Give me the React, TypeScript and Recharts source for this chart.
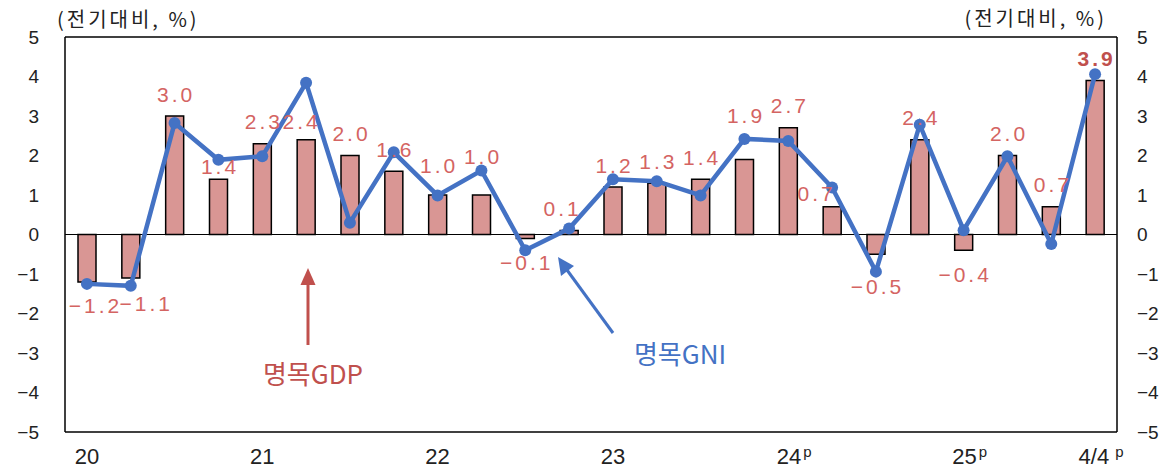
import React from 'react'
import { ComposedChart, Bar, Line, XAxis, YAxis, ReferenceLine, LabelList } from 'recharts'

const quarters = [
  '20Q1', '20Q2', '20Q3', '20Q4', '21Q1', '21Q2', '21Q3', '21Q4',
  '22Q1', '22Q2', '22Q3', '22Q4', '23Q1', '23Q2', '23Q3', '23Q4',
  '24Q1', '24Q2', '24Q3', '24Q4', '25Q1', '25Q2', '25Q3', '25Q4',
]
const xLabels = [
  '20', '', '', '', '21', '', '', '',
  '22', '', '', '', '23', '', '', '',
  '24p', '', '', '', '25p', '', '', '4/4p',
]
// 명목GDP 성장률 (전기대비, %)
const gdp = [-1.2, -1.1, 3.0, 1.4, 2.3, 2.4, 2.0, 1.6, 1.0, 1.0, -0.1, 0.1, 1.2, 1.3, 1.4, 1.9, 2.7, 0.7, -0.5, 2.4, -0.4, 2.0, 0.7, 3.9]
// 명목GNI 성장률 (전기대비, %)
const gni = [-1.25, -1.3, 2.82, 1.89, 1.98, 3.84, 0.3, 2.08, 0.99, 1.62, -0.4, 0.15, 1.4, 1.35, 0.99, 2.42, 2.37, 1.19, -0.94, 2.78, 0.11, 1.98, -0.24, 4.06]
const yTicks = [-5, -4, -3, -2, -1, 0, 1, 2, 3, 4, 5]

const chartData = quarters.map((q, i) => ({ q, label: xLabels[i], gdp: gdp[i], gni: gni[i] }))

// hand-placed data label nudges, like the original
const labelNudge: Record<number, [number, number]> = {
  0: [7, 0], 1: [14, 2], 3: [0, 9], 5: [-6, 4], 8: [0, -8], 9: [0, -17],
  11: [-8, 0], 15: [0, -22], 17: [-17, 9], 18: [0, 8],
}

const KFONT = '"Noto Sans CJK KR", "Noto Sans", sans-serif'
const NFONT = '"Liberation Sans", Arial, sans-serif'
const RED = '#c0504d'
const BLUE = '#4472c4'

const fmt = (v: number) => (v < 0 ? '\u2212' + Math.abs(v).toFixed(1) : v.toFixed(1))

const renderLabel = (props: any) => {
  const { x, y, width, height, value, index } = props
  const top = Math.min(y, y + height)
  const bottom = Math.max(y, y + height)
  const [dx, dy] = labelNudge[index] || [0, 0]
  const last = index === quarters.length - 1
  const cy = value < 0 ? bottom + 24 : top - 22
  return (
    <text
      x={x + width / 2 + dx + 1.5}
      y={cy + dy}
      dy={7.5}
      textAnchor="middle"
      fontFamily={NFONT}
      fontSize={21}
      letterSpacing={3}
      fontWeight={last ? 700 : 400}
      fill={last ? RED : '#d46462'}
    >
      {fmt(value)}
    </text>
  )
}

const XTick = (props: any) => {
  const { x, y, payload } = props
  const lab: string = xLabels[payload.index] ?? ''
  if (!lab) return null
  const sup = lab.endsWith('p')
  const main = sup ? lab.slice(0, -1) : lab
  return (
    <text x={x + (sup ? 6 : 0)} y={y} dy={30} textAnchor="middle" fontFamily={NFONT} fontSize={22} fill="#222">
      <tspan>{main}</tspan>
      {sup && (
        <tspan fontSize={15} dx={lab === '4/4p' ? 6 : 2} dy={-7}>
          p
        </tspan>
      )}
    </text>
  )
}

const yFmt = (v: number) => (v < 0 ? '\u2212' + Math.abs(v) : String(v))

export default function App() {
  return (
    <div style={{ position: 'absolute', left: 0, top: 0, width: 1176, height: 472, background: '#fff' }}>
      <ComposedChart width={1176} height={472} data={chartData} margin={{ top: 37, right: 0, bottom: 0, left: 0 }}>
        <XAxis
          dataKey="q"
          interval={0}
          tick={<XTick />}
          tickLine={false}
          tickSize={0}
          height={40}
          axisLine={{ stroke: '#000', strokeWidth: 1.5 }}
        />
        <YAxis
          yAxisId="left"
          domain={[-5, 5]}
          ticks={yTicks}
          width={65}
          tickLine={false}
          tickSize={0}
          tickMargin={26}
          tickFormatter={yFmt}
          tick={{ fontSize: 19, fill: '#222', fontFamily: NFONT }}
          axisLine={{ stroke: '#000', strokeWidth: 1.5 }}
          allowDataOverflow
        />
        <YAxis
          yAxisId="right"
          orientation="right"
          domain={[-5, 5]}
          ticks={yTicks}
          width={59}
          tickLine={false}
          tickSize={0}
          tickMargin={20}
          tickFormatter={yFmt}
          tick={{ fontSize: 19, fill: '#222', fontFamily: NFONT, textAnchor: 'start' }}
          axisLine={{ stroke: '#000', strokeWidth: 1.5 }}
          allowDataOverflow
        />
        <ReferenceLine yAxisId="left" y={5} stroke="#000" strokeWidth={1.5} />
        <Bar yAxisId="left" dataKey="gdp" barSize={18} fill="#d99694" stroke="#000" strokeWidth={1.5} isAnimationActive={false}>
          <LabelList dataKey="gdp" content={renderLabel} />
        </Bar>
        <ReferenceLine yAxisId="left" y={0} stroke="#000" strokeWidth={1.2} />
        <Line
          yAxisId="right"
          dataKey="gni"
          type="linear"
          stroke={BLUE}
          strokeWidth={4.5}
          dot={{ r: 6, fill: BLUE, stroke: 'none' }}
          activeDot={false}
          isAnimationActive={false}
        />
      </ComposedChart>
      <svg width={1176} height={472} style={{ position: 'absolute', left: 0, top: 0, pointerEvents: 'none' }}>
        <text x={57} y={27} fontFamily={KFONT} fontSize={20} letterSpacing={3} fill="#222">
          (전기대비, %)
        </text>
        <text x={1107} y={26} fontFamily={KFONT} fontSize={20} letterSpacing={3} fill="#222" textAnchor="end">
          (전기대비, %)
        </text>
        <line x1={308} y1={345} x2={308} y2={282} stroke={RED} strokeWidth={3} />
        <polygon points="308,268 300.5,285 315.5,285" fill={RED} />
        <text x={313} y={384} textAnchor="middle" fontFamily={KFONT} fontSize={26} fill={RED}>
          명목GDP
        </text>
        <line x1={613} y1={333} x2={567} y2={270} stroke={BLUE} strokeWidth={3} />
        <polygon points="558,257 561,276 574,266" fill={BLUE} />
        <text x={680} y={364} textAnchor="middle" fontFamily={KFONT} fontSize={26} fill={BLUE}>
          명목GNI
        </text>
      </svg>
    </div>
  )
}
